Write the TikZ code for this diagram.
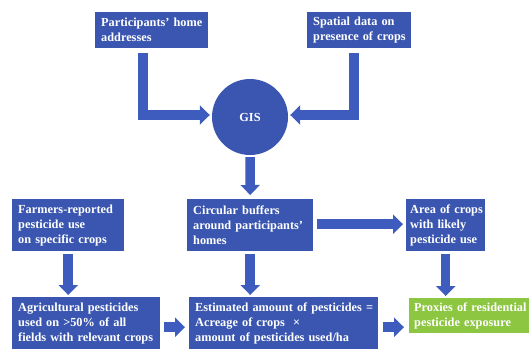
\documentclass[tikz,border=0pt]{standalone}
\usepackage{fontspec}
\setmainfont{Liberation Serif}
\usetikzlibrary{arrows.meta,calc}
\definecolor{boxblue}{RGB}{58,86,176}
\definecolor{arrblue}{RGB}{62,92,190}
\definecolor{boxgreen}{RGB}{141,198,65}
\newcommand\oneline[1]{\mbox{#1}}
\begin{document}
\begin{tikzpicture}[x=1pt,y=-1pt,
  box/.style={fill=boxblue, text=white, font=\bfseries\fontsize{12.3}{15}\selectfont,
    align=left, inner xsep=6pt, inner ysep=0pt, anchor=north west},
  arr/.style={draw=arrblue, line width=9.5pt, line join=miter,
    -{Triangle[width=19pt,length=10pt]}}]
\useasboundingbox (0,0) rectangle (529,348);
\node[box, text width=101pt, minimum height=36pt] (p) at (95,12) {\oneline{Participants’ home}\\addresses};
\node[box, text width=92pt, minimum height=36pt] (s) at (307,12) {\oneline{Spatial data on}\\\oneline{presence of crops}};
\node[circle, fill=boxblue, text=white, font=\bfseries\fontsize{12.3}{15}\selectfont,
  minimum size=76pt, inner sep=0pt] (gis) at (250,117) {GIS};
\node[box, text width=100pt, minimum height=52pt] (f) at (12,199) {\oneline{Farmers-reported}\\\oneline{pesticide use}\\\oneline{on specific crops}};
\node[box, text width=114pt, minimum height=52pt] (c) at (187,199) {\oneline{Circular buffers}\\\oneline{around participants’}\\homes};
\node[box, inner xsep=4pt, text width=71pt, minimum height=52pt] (a) at (406,199) {\oneline{Area of crops}\\\oneline{with likely}\\\oneline{pesticide use}};
\node[box, text width=136pt, minimum height=52pt] (ag) at (12,297) {\oneline{Agricultural pesticides}\\\oneline{used on >50\% of all}\\\oneline{fields with relevant crops}};
\node[box, text width=177pt, minimum height=52pt] (e) at (189,297) {\oneline{Estimated amount of pesticides =}\\\oneline{Acreage of crops~~×}\\\oneline{amount of pesticides used/ha}};
\node[box, fill=boxgreen, inner xsep=5pt, text width=120pt, minimum height=35pt] (px) at (409,298) {\oneline{Proxies of residential}\\\oneline{pesticide exposure}};
% arrows
\draw[arr] ($(p.south)+(-8.5pt,-5pt)$) |- ($(gis.west)+(-2pt,2pt)$);
\draw[arr] ($(s.south)+(-5pt,-5pt)$) |- ($(gis.east)+(2pt,2pt)$);
\draw[arr] ($(gis.south)+(0,-2pt)$) -- ($(c.north)+(0,4pt)$);
\draw[arr] ($(f.south)+(0,-3pt)$) -- ($(f.south |- ag.north)+(0,2pt)$);
\draw[arr] ($(c.south)+(0,-3pt)$) -- ($(c.south |- e.north)+(0,2pt)$);
\draw[arr] ($(a.south)+(0,-3pt)$) -- ($(a.south |- px.north)+(0,2pt)$);
\draw[arr] ($(c.east)+(4pt,1pt)$) coordinate (u) -- ($(a.west |- u)+(-3pt,0)$);
\draw[arr] ($(ag.east)+(4pt,-4pt)$) coordinate (v) -- ($(e.west |- v)+(-4pt,0)$);
\draw[arr] ($(e.east)+(5pt,-4pt)$) coordinate (t) -- ($(px.west |- t)+(-5pt,0)$);
\end{tikzpicture}
\end{document}
